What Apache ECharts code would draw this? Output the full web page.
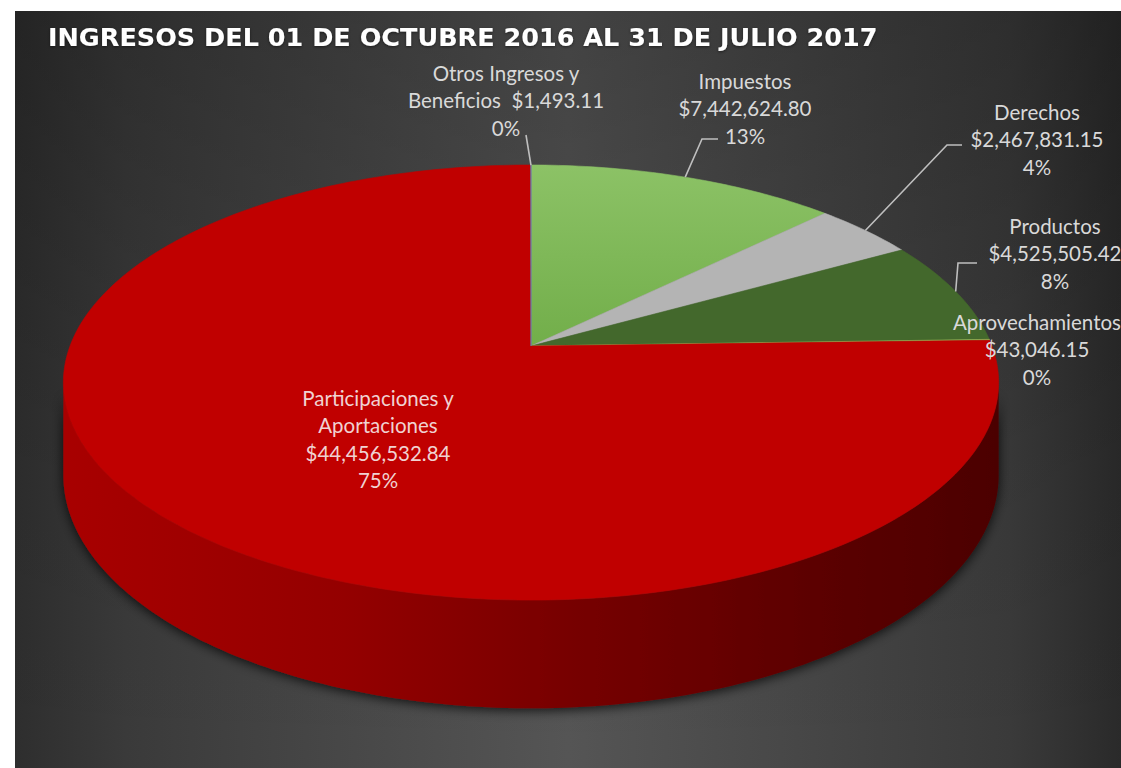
<!DOCTYPE html>
<html>
<head>
<meta charset="utf-8">
<script src="https://cdn.jsdelivr.net/npm/echarts@6/dist/echarts.min.js"></script>
<style>
html,body{margin:0;padding:0;background:#fff;}
#main{width:1121px;height:768px;}
</style>
</head>
<body>
<div id="main"></div>
<script>
// ---- data ----
const titleText = 'INGRESOS DEL 01 DE OCTUBRE 2016 AL 31 DE JULIO 2017';
const categories = ['Impuestos', 'Derechos', 'Productos', 'Aprovechamientos', 'Participaciones y\nAportaciones', 'Otros Ingresos y\nBeneficios'];
const values = [7442624.80, 2467831.15, 4525505.42, 43046.15, 44456532.84, 1493.11];

// ---- styles / layout ----
const topColors = ['#7fba58', '#b4b4b4', '#43682c', '#9bbb59', '#c00000', '#5b9bd5'];
const wallColors = ['#4f7a35', '#7a7a7a', '#2b441c', '#6a8a3a', null, '#3b6b95'];
const labelLayout = [
  {x: 745, y: 108, elbow: [702, 139], end: [718, 139], inline: false, color: '#d9d9d9'},
  {x: 1037, y: 139, elbow: [947, 145], end: [962, 145], inline: false, color: '#d9d9d9'},
  {x: 1055, y: 253, elbow: [958, 263], end: [977, 263], inline: false, color: '#d9d9d9'},
  {x: 1037, y: 349, elbow: null, end: null, inline: false, color: '#d9d9d9'},
  {x: 378, y: 439, elbow: null, end: null, inline: false, color: '#f0d2d2'},
  {x: 506, y: 100, elbow: [526, 135], end: null, inline: true, color: '#d9d9d9'}
];
const G = {cx: 531, cy: 346, sx: 461, sy: 211.4, p: 0.168, depth: 90};

const total = values.reduce((a, b) => a + b, 0);
const startAngles = [];
(function () { let acc = 0; values.forEach(v => { startAngles.push(acc / total * 360); acc += v; }); })();

function proj(phi, h) {
  const t = phi * Math.PI / 180;
  const u = Math.sin(t), v = -Math.cos(t);
  const w = 1 - G.p * v;
  return [G.cx + G.sx * u / w, G.cy + (G.sy * v + (h || 0)) / w];
}
function arc(a1, a2, h) {
  const pts = [];
  const n = Math.max(1, Math.ceil((a2 - a1) / 1));
  for (let i = 0; i <= n; i++) pts.push(proj(a1 + (a2 - a1) * i / n, h));
  return pts;
}
function money(v) {
  return '$' + v.toLocaleString('en-US', {minimumFractionDigits: 2, maximumFractionDigits: 2});
}
const visA = Math.acos(-G.p) * 180 / Math.PI; // front-facing wall from visA to 360-visA
const visB = 360 - visA;

const chart = echarts.init(document.getElementById('main'), null, {renderer: 'svg'});

const labelFont = 'Lato, "Open Sans", sans-serif';

chart.setOption({
  backgroundColor: '#ffffff',
  animation: false,
  graphic: [
    {type: 'rect', z: -10, shape: {x: 15, y: 11, width: 1106, height: 757},
     style: {fill: new echarts.graphic.LinearGradient(0, 0, 1, 0, [
       {offset: 0, color: '#2e2e2e'}, {offset: 0.1, color: '#3a3a3a'},
       {offset: 0.5, color: '#555555'}, {offset: 0.9, color: '#3a3a3a'}, {offset: 1, color: '#2a2a2a'}])}},
    {type: 'rect', z: -9, shape: {x: 15, y: 11, width: 1106, height: 757},
     style: {fill: new echarts.graphic.LinearGradient(0, 0, 0, 1, [
       {offset: 0, color: 'rgba(0,0,0,0.22)'}, {offset: 0.6, color: 'rgba(0,0,0,0.05)'}, {offset: 1, color: 'rgba(0,0,0,0)'}])}},
    {type: 'text', z: 10, style: {text: titleText, x: 48, y: 37, fill: '#ffffff',
      font: 'bold 25.5px "DejaVu Sans", sans-serif', verticalAlign: 'middle', align: 'left',
      textShadowColor: 'rgba(0,0,0,0.5)', textShadowBlur: 3, textShadowOffsetY: 1}}
  ],
  series: [
    {
      type: 'custom', coordinateSystem: 'none', z: 1, silent: true,
      data: values.map((v, i) => ({name: categories[i], value: v})),
      renderItem: function (params, api) {
        const i = params.dataIndex;
        const a1 = Math.max(startAngles[i], visA);
        const a2 = Math.min(startAngles[i] + api.value(0) / total * 360, visB);
        if (a2 <= a1) return;
        const top = arc(a1, a2, 0);
        const bot = arc(a1, a2, G.depth).reverse();
        const fill = i === 4 ? new echarts.graphic.LinearGradient(66, 0, 996, 0, [
          {offset: 0, color: '#a80000'}, {offset: 0.3, color: '#940000'},
          {offset: 0.55, color: '#760000'}, {offset: 0.8, color: '#5c0000'}, {offset: 1, color: '#4c0000'}], true)
          : wallColors[i];
        return {type: 'polygon', shape: {points: top.concat(bot)},
          style: {fill: fill, shadowBlur: 12, shadowColor: 'rgba(0,0,0,0.8)', shadowOffsetY: 2}};
      }
    },
    {
      type: 'custom', coordinateSystem: 'none', z: 2, silent: true,
      data: values.map((v, i) => ({name: categories[i], value: v})),
      renderItem: function (params, api) {
        const i = params.dataIndex;
        const a1 = startAngles[i];
        const a2 = a1 + api.value(0) / total * 360;
        const pts = [[G.cx, G.cy]].concat(arc(a1, a2, 0));
        const fill = i === 0 ? new echarts.graphic.LinearGradient(0, 0, 0, 1, [
          {offset: 0, color: '#8cc266'}, {offset: 1, color: '#72ae4a'}]) : topColors[i];
        return {type: 'polygon', shape: {points: pts}, style: {fill: fill, stroke: fill, lineWidth: 0.6}};
      }
    },
    {
      type: 'custom', coordinateSystem: 'none', z: 3, silent: true,
      data: values.map((v, i) => ({name: categories[i], value: v})),
      renderItem: function (params, api) {
        const i = params.dataIndex;
        const v = api.value(0);
        const L = labelLayout[i];
        const mid = startAngles[i] + v / total * 180;
        const pct = Math.round(v / total * 100) + '%';
        const name = categories[i];
        const text = L.inline ? (name + '  ' + money(v) + '\n' + pct) : (name + '\n' + money(v) + '\n' + pct);
        const children = [];
        if (L.elbow) {
          const pts = [proj(mid, 0), L.elbow];
          if (L.end) pts.push(L.end);
          children.push({type: 'polyline', shape: {points: pts}, style: {stroke: '#bfbfbf', lineWidth: 1.6, fill: null}});
        }
        children.push({type: 'text', style: {text: text, x: L.x, y: L.y, fill: L.color,
          font: '20.5px ' + labelFont, align: 'center', verticalAlign: 'middle', lineHeight: 27.5}});
        return {type: 'group', children: children};
      }
    }
  ]
});
</script>
</body>
</html>
